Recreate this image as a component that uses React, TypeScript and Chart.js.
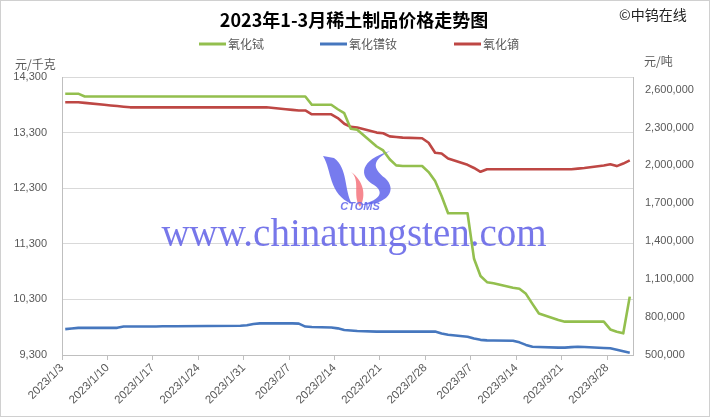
import React, { useEffect, useRef } from "react";
import { Chart, registerables } from "chart.js";

Chart.register(...registerables);

// ---- data ----
const dates = [
  "2023/1/3", "2023/1/4", "2023/1/5", "2023/1/6", "2023/1/9", "2023/1/10", "2023/1/11", "2023/1/12",
  "2023/1/13", "2023/1/16", "2023/1/17", "2023/1/18", "2023/1/19", "2023/1/20", "2023/1/30", "2023/1/31",
  "2023/2/1", "2023/2/2", "2023/2/3", "2023/2/6", "2023/2/7", "2023/2/8", "2023/2/9", "2023/2/10",
  "2023/2/13", "2023/2/14", "2023/2/15", "2023/2/16", "2023/2/17", "2023/2/20", "2023/2/21", "2023/2/22",
  "2023/2/23", "2023/2/24", "2023/2/27", "2023/2/28",
  "2023/3/1", "2023/3/2", "2023/3/3", "2023/3/6", "2023/3/7", "2023/3/8", "2023/3/9", "2023/3/10",
  "2023/3/13", "2023/3/14", "2023/3/15", "2023/3/16", "2023/3/17", "2023/3/20", "2023/3/21", "2023/3/22",
  "2023/3/23", "2023/3/24", "2023/3/27", "2023/3/28", "2023/3/29", "2023/3/30", "2023/3/31",
];

// 氧化铽 (元/千克, left axis)
const terbiumOxide = [
  14000, 14000, 14000, 13950, 13950, 13950, 13950, 13950, 13950, 13950, 13950, 13950, 13950, 13950, 13950, 13950,
  13950, 13950, 13950, 13950, 13950, 13950, 13950, 13800, 13800, 13720, 13650, 13370, 13350, 13050, 12980, 12820,
  12710, 12700, 12700, 12590,
  12430, 12160, 11850, 11850, 11030, 10720, 10610, 10590, 10510, 10490, 10400, 10220, 10045, 9930, 9900, 9900,
  9900, 9900, 9900, 9760, 9720, 9690, 10350,
];

// 氧化镨钕 (元/吨, right axis)
const prNdOxide = [
  705000, 710000, 715000, 715000, 715000, 715000, 715000, 725000, 725000, 726000, 726000, 727000, 727000, 728000, 732000, 736000,
  745000, 750000, 750000, 750000, 750000, 748000, 725000, 722000, 718000, 711000, 698000, 694000, 690000, 685000, 685000, 685000,
  685000, 685000, 685000, 685000,
  685000, 670000, 660000, 645000, 630000, 620000, 616000, 615000, 613000, 600000, 580000, 565000, 563000, 558000, 558000, 562000,
  565000, 563000, 555000, 553000, 541000, 529000, 518000,
];

// 氧化镝 (元/吨, right axis)
const dysprosiumOxide = [
  2500000, 2500000, 2500000, 2495000, 2480000, 2475000, 2470000, 2465000, 2460000, 2460000, 2460000, 2460000, 2460000, 2460000, 2460000, 2460000,
  2460000, 2460000, 2460000, 2445000, 2440000, 2435000, 2435000, 2405000, 2405000, 2375000, 2330000, 2305000, 2300000, 2260000, 2255000, 2230000,
  2225000, 2220000, 2215000, 2180000,
  2100000, 2095000, 2055000, 2005000, 1980000, 1950000, 1970000, 1970000, 1970000, 1970000, 1970000, 1970000, 1970000, 1970000, 1970000, 1970000,
  1975000, 1980000, 2000000, 2010000, 1995000, 2015000, 2040000,
];

const tickLabels = [
  "2023/1/3", "2023/1/10", "2023/1/17", "2023/1/24", "2023/1/31", "2023/2/7", "2023/2/14",
  "2023/2/21", "2023/2/28", "2023/3/7", "2023/3/14", "2023/3/21", "2023/3/28",
];

const seriesNames = ["氧化铽", "氧化镨钕", "氧化镝"];
const seriesColors = ["#93BF4E", "#4677BE", "#BE4744"];
const titleText = "2023年1-3月稀土制品价格走势图";
const copyrightText = "©中钨在线";
const leftUnit = "元/千克";
const rightUnit = "元/吨";
const watermarkText = "www.chinatungsten.com";

// ---- helpers ----
const dayIndex = (s: string) => {
  const [y, m, d] = s.split("/").map(Number);
  return Math.round((Date.UTC(y, m - 1, d) - Date.UTC(2023, 0, 3)) / 86400000);
};
const xMax = dayIndex(dates[dates.length - 1]) + 1;
const toPoints = (vals: number[]) => vals.map((v, i) => ({ x: dayIndex(dates[i]) + 0.5, y: v }));
const fmt = (v: number) => Math.round(v).toLocaleString("en-US");

const FONT = "'Liberation Sans', 'Noto Sans', sans-serif";
const CJK = "'Noto Sans CJK SC', 'Noto Sans', sans-serif";

const decorPlugin = {
  id: "decor",
  beforeDraw(chart: any) {
    const ctx = chart.ctx;
    ctx.save();
    ctx.fillStyle = "#ffffff";
    ctx.fillRect(0, 0, chart.width, chart.height);
    ctx.restore();
  },
  beforeDatasetsDraw(chart: any) {
    const ctx = chart.ctx;
    ctx.save();
    // logo approximation
    ctx.fillStyle = "rgba(95,100,235,0.85)";
    ctx.beginPath();
    ctx.moveTo(323, 156);
    ctx.bezierCurveTo(332, 170, 328, 194, 352, 204);
    ctx.bezierCurveTo(344, 190, 348, 168, 334, 158);
    ctx.closePath();
    ctx.fill();
    ctx.beginPath();
    ctx.moveTo(390, 151);
    ctx.bezierCurveTo(360, 160, 358, 176, 374, 185);
    ctx.bezierCurveTo(386, 193, 378, 201, 360, 205);
    ctx.bezierCurveTo(388, 205, 398, 190, 385, 178);
    ctx.bezierCurveTo(372, 168, 372, 160, 390, 151);
    ctx.closePath();
    ctx.fill();
    ctx.fillStyle = "rgba(245,115,125,0.85)";
    ctx.beginPath();
    ctx.moveTo(351, 172);
    ctx.bezierCurveTo(361, 180, 352, 196, 360, 207);
    ctx.bezierCurveTo(367, 195, 363, 180, 351, 172);
    ctx.closePath();
    ctx.fill();
    ctx.fillStyle = "rgba(95,100,235,0.85)";
    ctx.font = "italic bold 11px " + FONT;
    ctx.textAlign = "center";
    ctx.textBaseline = "middle";
    ctx.fillText("CTOMS", 360, 207);
    // watermark text
    ctx.font = "39px 'Liberation Serif', 'DejaVu Serif', serif";
    ctx.fillStyle = "rgba(95,95,230,0.85)";
    ctx.textAlign = "center";
    ctx.textBaseline = "middle";
    ctx.fillText(watermarkText, 354, 236);
    ctx.restore();
  },
  afterDraw(chart: any) {
    const ctx = chart.ctx;
    ctx.save();
    // outer border
    ctx.strokeStyle = "#d0d0d0";
    ctx.lineWidth = 1;
    ctx.strokeRect(0.5, 0.5, chart.width - 1, chart.height - 1);
    // title
    ctx.fillStyle = "#000000";
    ctx.font = "bold 18px " + CJK;
    ctx.textAlign = "center";
    ctx.textBaseline = "middle";
    ctx.fillText(titleText, 354, 20);
    // copyright
    ctx.font = "14px " + CJK;
    ctx.fillStyle = "#222222";
    ctx.textAlign = "left";
    ctx.fillText(copyrightText, 619, 15);
    // legend
    const legendX = [199, 320, 454];
    ctx.font = "12px " + CJK;
    ctx.textBaseline = "middle";
    seriesNames.forEach((name, i) => {
      ctx.strokeStyle = seriesColors[i];
      ctx.lineWidth = 3;
      ctx.beginPath();
      ctx.moveTo(legendX[i], 44);
      ctx.lineTo(legendX[i] + 27, 44);
      ctx.stroke();
      ctx.fillStyle = "#595959";
      ctx.fillText(name, legendX[i] + 29, 44);
    });
    // units
    ctx.font = "12px " + CJK;
    ctx.fillStyle = "#595959";
    ctx.textAlign = "left";
    ctx.fillText(leftUnit, 15, 64);
    ctx.fillText(rightUnit, 644, 61);
    ctx.restore();
  },
};

export default function App() {
  const canvasRef = useRef<HTMLCanvasElement | null>(null);

  useEffect(() => {
    if (!canvasRef.current) return;
    const lineBase = {
      borderWidth: 2.6,
      pointRadius: 0,
      tension: 0,
      borderJoinStyle: "round" as const,
      fill: false,
    };
    const chart = new Chart(canvasRef.current, {
      type: "line",
      data: {
        datasets: [
          { ...lineBase, label: seriesNames[0], data: toPoints(terbiumOxide), borderColor: seriesColors[0], yAxisID: "y" },
          { ...lineBase, label: seriesNames[1], data: toPoints(prNdOxide), borderColor: seriesColors[1], yAxisID: "y1" },
          { ...lineBase, label: seriesNames[2], data: toPoints(dysprosiumOxide), borderColor: seriesColors[2], yAxisID: "y1" },
        ],
      },
      options: {
        responsive: false,
        animation: false,
        events: [],
        layout: { padding: { top: 77, left: 0, right: 0, bottom: 0 } },
        plugins: { legend: { display: false }, title: { display: false }, tooltip: { enabled: false } },
        scales: {
          x: {
            type: "linear",
            min: 0,
            max: xMax,
            afterBuildTicks: (scale: any) => {
              scale.ticks = tickLabels.map((t) => ({ value: dayIndex(t) }));
            },
            afterFit: (scale: any) => {
              scale.height = 62;
            },
            grid: { drawOnChartArea: false, drawTicks: true, tickLength: 5, color: "#bfbfbf" },
            border: { display: true, color: "#bfbfbf" },
            ticks: {
              autoSkip: false,
              maxRotation: 45,
              minRotation: 45,
              padding: 1,
              color: "#595959",
              font: { family: FONT, size: 11.5 },
              callback: (v: any) => {
                const idx = tickLabels.findIndex((t) => dayIndex(t) === v);
                return idx >= 0 ? tickLabels[idx] : "";
              },
            },
          },
          y: {
            type: "linear",
            position: "left",
            min: 9300,
            max: 14300,
            afterFit: (scale: any) => {
              scale.width = 62;
            },
            grid: { color: "#d9d9d9", drawTicks: false },
            border: { display: true, color: "#bfbfbf" },
            ticks: {
              stepSize: 1000,
              padding: 15,
              color: "#595959",
              font: { family: FONT, size: 11 },
              callback: (v: any) => fmt(Number(v)),
            },
          },
          y1: {
            type: "linear",
            position: "right",
            min: 500000,
            max: 2700000,
            afterBuildTicks: (scale: any) => {
              const t = [];
              for (let v = 500000; v <= 2600000; v += 300000) t.push({ value: v });
              scale.ticks = t;
            },
            afterFit: (scale: any) => {
              scale.width = 77;
            },
            grid: { drawOnChartArea: false, drawTicks: false },
            border: { display: true, color: "#bfbfbf" },
            ticks: {
              padding: 12,
              color: "#595959",
              font: { family: FONT, size: 11 },
              callback: (v: any) => fmt(Number(v)),
            },
          },
        },
      },
      plugins: [decorPlugin],
    } as any);
    return () => chart.destroy();
  }, []);

  return (
    <div style={{ position: "absolute", left: 0, top: 0, width: 710, height: 417 }}>
      <canvas ref={canvasRef} width={710} height={417} style={{ width: 710, height: 417, display: "block" }} />
    </div>
  );
}
